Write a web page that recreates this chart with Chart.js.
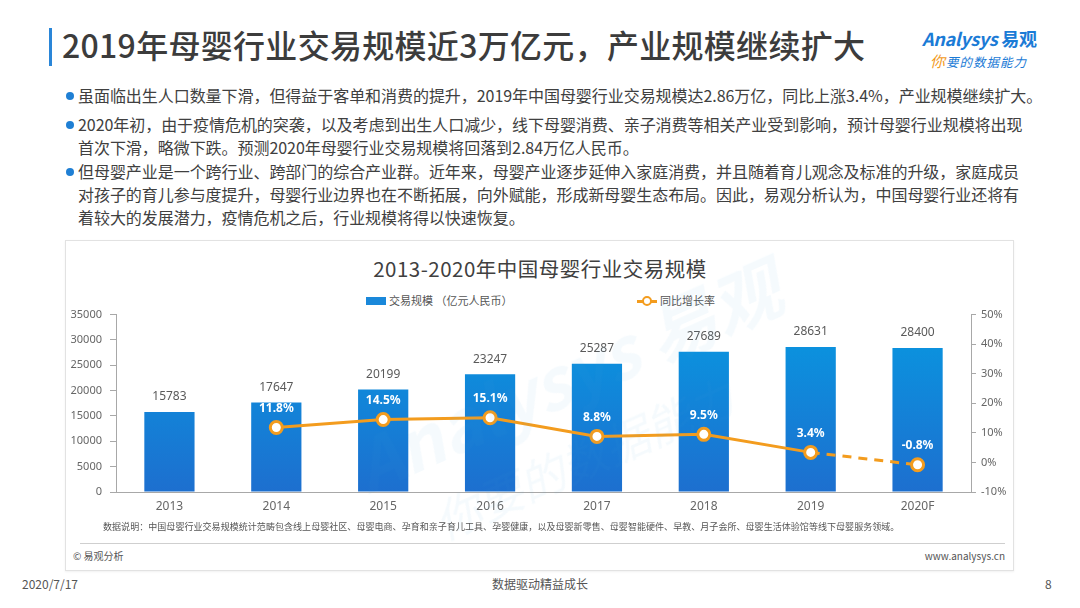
<!DOCTYPE html>
<html>
<head>
<meta charset="utf-8">
<script src="https://cdn.jsdelivr.net/npm/chart.js@4/dist/chart.umd.min.js"></script>
<style>
  body { margin: 0; background: #fff; font-family: "Noto Sans CJK SC", "Noto Sans", sans-serif; color: #404040; }
  #page { position: relative; width: 1080px; height: 608px; overflow: hidden; background: #fff; }
  .abs { position: absolute; white-space: nowrap; }
  #titleBar { left: 49px; top: 28px; width: 3px; height: 38px; background: #2a86d8; }
  #title { left: 62px; top: 21px; font-size: 32px; font-weight: 500; color: #3c3c3c; letter-spacing: 0.3px; }
  .bullet { position: absolute; left: 78px; font-size: 16px; line-height: 23px; color: #404040; white-space: nowrap; letter-spacing: -0.05px; }
  .bullet::before { content: ""; position: absolute; left: -12px; top: 8px; width: 8px; height: 8px; border-radius: 50%; background: #1f7fd4; }
  #panel { left: 65px; top: 240px; width: 947px; height: 329px; border: 1px solid #e2e2e2; box-shadow: 0 1px 2px rgba(0,0,0,0.06); }
  #chartTitle { left: 0; width: 1080px; top: 253px; text-align: center; font-size: 20.5px; color: #404040; letter-spacing: 0.5px; }
  .leg { font-size: 11px; color: #555; top: 292px; }
  #wrap { position: absolute; left: 65px; top: 300px; width: 948px; height: 220px; }
  #note { left: 103px; top: 520px; font-size: 9px; color: #555; letter-spacing: 0.05px; }
  #sep { left: 80px; top: 543px; width: 925px; height: 1px; background: #cfcfcf; }
  #copy { left: 73px; top: 548px; font-size: 10px; color: #555; }
  #site { right: 75px; top: 548px; font-size: 10px; color: #555; }
  .foot { top: 575px; font-size: 12px; color: #555; }
  #wm { left: 350px; top: 320px; transform: rotate(-24deg); color: rgba(60,150,225,0.05); pointer-events: none; }
</style>
</head>
<body>
<div id="page">
  <div class="abs" id="titleBar"></div>
  <div class="abs" id="title">2019年母婴行业交易规模近3万亿元，产业规模继续扩大</div>

  <div class="abs" style="left:922px; top:25px; font-size:18px; font-weight:700; font-style:italic; color:#1b7bd6; letter-spacing:-0.3px;">Analysys <span style="font-style:normal;">易观</span></div>
  <div class="abs" style="left:930px; top:50px; font-size:12.5px; font-style:italic; color:#1b7bd6; letter-spacing:1px;"><span style="color:#f29a1d; font-size:15px;">你</span>要的数据能力</div>

  <div class="bullet" style="top:84px;">虽面临出生人口数量下滑，但得益于客单和消费的提升，2019年中国母婴行业交易规模达2.86万亿，同比上涨3.4%，产业规模继续扩大。</div>
  <div class="bullet" style="top:113px;">2020年初，由于疫情危机的突袭，以及考虑到出生人口减少，线下母婴消费、亲子消费等相关产业受到影响，预计母婴行业规模将出现<br>首次下滑，略微下跌。预测2020年母婴行业交易规模将回落到2.84万亿人民币。</div>
  <div class="bullet" style="top:160px;">但母婴产业是一个跨行业、跨部门的综合产业群。近年来，母婴产业逐步延伸入家庭消费，并且随着育儿观念及标准的升级，家庭成员<br>对孩子的育儿参与度提升，母婴行业边界也在不断拓展，向外赋能，形成新母婴生态布局。因此，易观分析认为，中国母婴行业还将有<br>着较大的发展潜力，疫情危机之后，行业规模将得以快速恢复。</div>

  <div class="abs" id="panel"></div>
  <div class="abs" id="chartTitle">2013-2020年中国母婴行业交易规模</div>

  <div class="abs leg" style="left:366px;"><span style="display:inline-block; width:20px; height:8px; background:#1a88da; vertical-align:middle; margin-right:3px; position:relative; top:-1px;"></span>交易规模 （亿元人民币）</div>
  <div class="abs leg" style="left:637px;"><span style="display:inline-block; position:relative; width:20px; height:10px; vertical-align:middle; margin-right:3px; top:-1px;"><span style="position:absolute; left:0; top:4px; width:20px; height:2.5px; background:#f39c1e;"></span><span style="position:absolute; left:5px; top:0; width:6px; height:6px; border:2px solid #f39c1e; border-radius:50%; background:#fff;"></span></span>同比增长率</div>

  <div id="wrap"><canvas id="c"></canvas></div>

  <div class="abs" id="wm">
    <div style="font-size:70px; font-weight:700; font-style:italic;">Analysys 易观</div>
    <div style="font-size:46px; margin-left:50px; font-style:italic;">你要的数据能力</div>
  </div>

  <div class="abs" id="note">数据说明：中国母婴行业交易规模统计范畴包含线上母婴社区、母婴电商、孕育和亲子育儿工具、孕婴健康，以及母婴新零售、母婴智能硬件、早教、月子会所、母婴生活体验馆等线下母婴服务领域。</div>
  <div class="abs" id="sep"></div>
  <div class="abs" id="copy">© 易观分析</div>
  <div class="abs" id="site">www.analysys.cn</div>

  <div class="abs foot" style="left:22px;">2020/7/17</div>
  <div class="abs foot" style="left:0; width:1080px; text-align:center;">数据驱动精益成长</div>
  <div class="abs foot" style="left:1045px;">8</div>
</div>

<script>
const years = ["2013", "2014", "2015", "2016", "2017", "2018", "2019", "2020F"]
const scaleValues = [15783, 17647, 20199, 23247, 25287, 27689, 28631, 28400]
const growthRates = [null, 11.8, 14.5, 15.1, 8.8, 9.5, 3.4, -0.8]
const leftTicks = [0, 5000, 10000, 15000, 20000, 25000, 30000, 35000]
const rightTicks = [-10, 0, 10, 20, 30, 40, 50]

const orange = "#f39c1e"

const barGradient = (context) => {
  const chart = context.chart
  const area = chart.chartArea
  if (!area) return "#1a88da"
  const g = chart.ctx.createLinearGradient(0, area.top + 20, 0, area.bottom)
  g.addColorStop(0, "#0a94df")
  g.addColorStop(1, "#1d6fcf")
  return g
}

// value labels above bars, white % labels above line points
const labelPlugin = {
  id: "labels",
  afterDatasetsDraw(chart) {
    const ctx = chart.ctx
    ctx.save()
    ctx.textAlign = "center"
    ctx.textBaseline = "middle"
    const bars = chart.getDatasetMeta(0).data
    ctx.font = "12px 'Noto Sans', 'DejaVu Sans', sans-serif"
    ctx.fillStyle = "#5a5a5a"
    bars.forEach((bar, i) => {
      ctx.fillText(String(scaleValues[i]), bar.x, bar.y - 15)
    })
    const pts = chart.getDatasetMeta(1).data
    ctx.font = "bold 12px 'Noto Sans', 'DejaVu Sans', sans-serif"
    ctx.fillStyle = "#fff"
    pts.forEach((p, i) => {
      if (growthRates[i] === null) return
      ctx.fillText(growthRates[i].toFixed(1) + "%", p.x, p.y - 19)
    })
    ctx.restore()
  },
}

const ctx = document.getElementById("c").getContext("2d")
new Chart(ctx, {
  type: "bar",
  data: {
    labels: years,
    datasets: [
      {
        type: "bar",
        label: "交易规模 （亿元人民币）",
        data: scaleValues,
        yAxisID: "y",
        backgroundColor: barGradient,
        barPercentage: 0.47,
        categoryPercentage: 1,
        order: 2,
      },
      {
        type: "line",
        label: "同比增长率",
        data: growthRates,
        yAxisID: "y1",
        borderColor: orange,
        borderWidth: 3,
        pointRadius: 6,
        pointBorderWidth: 3,
        pointBackgroundColor: "#fff",
        pointBorderColor: orange,
        spanGaps: false,
        tension: 0,
        segment: {
          borderDash: (s) => (s.p1DataIndex === years.length - 1 ? [9, 7] : undefined),
        },
        order: 1,
      },
    ],
  },
  options: {
    responsive: true,
    maintainAspectRatio: false,
    animation: false,
    layout: { padding: { top: 12, left: 0, right: 0, bottom: 0 } },
    plugins: {
      legend: { display: false },
      tooltip: { enabled: false },
    },
    scales: {
      x: {
        grid: { display: false, drawTicks: false },
        border: { display: true, color: "#a8a8a8", width: 1 },
        ticks: {
          color: "#666",
          padding: 7,
          font: { size: 12, family: "'Noto Sans', sans-serif" },
        },
        afterFit: (scale) => { scale.height = 28 },
      },
      y: {
        position: "left",
        min: leftTicks[0],
        max: leftTicks[leftTicks.length - 1],
        afterBuildTicks: (scale) => { scale.ticks = leftTicks.map((v) => ({ value: v })) },
        grid: { drawOnChartArea: false, tickLength: 6, color: "#a8a8a8" },
        border: { display: true, color: "#a8a8a8" },
        ticks: {
          color: "#666",
          padding: 8,
          font: { size: 11, family: "'Noto Sans', sans-serif" },
          callback: (v) => String(v),
        },
        afterFit: (scale) => { scale.width = 51 },
      },
      y1: {
        position: "right",
        min: rightTicks[0],
        max: rightTicks[rightTicks.length - 1],
        afterBuildTicks: (scale) => { scale.ticks = rightTicks.map((v) => ({ value: v })) },
        grid: { drawOnChartArea: false, tickLength: 5, color: "#a8a8a8" },
        border: { display: true, color: "#a8a8a8" },
        ticks: {
          color: "#666",
          padding: 5,
          font: { size: 11, family: "'Noto Sans', sans-serif" },
          callback: (v) => v + "%",
        },
        afterFit: (scale) => { scale.width = 42 },
      },
    },
  },
  plugins: [labelPlugin],
})
</script>
</body>
</html>
